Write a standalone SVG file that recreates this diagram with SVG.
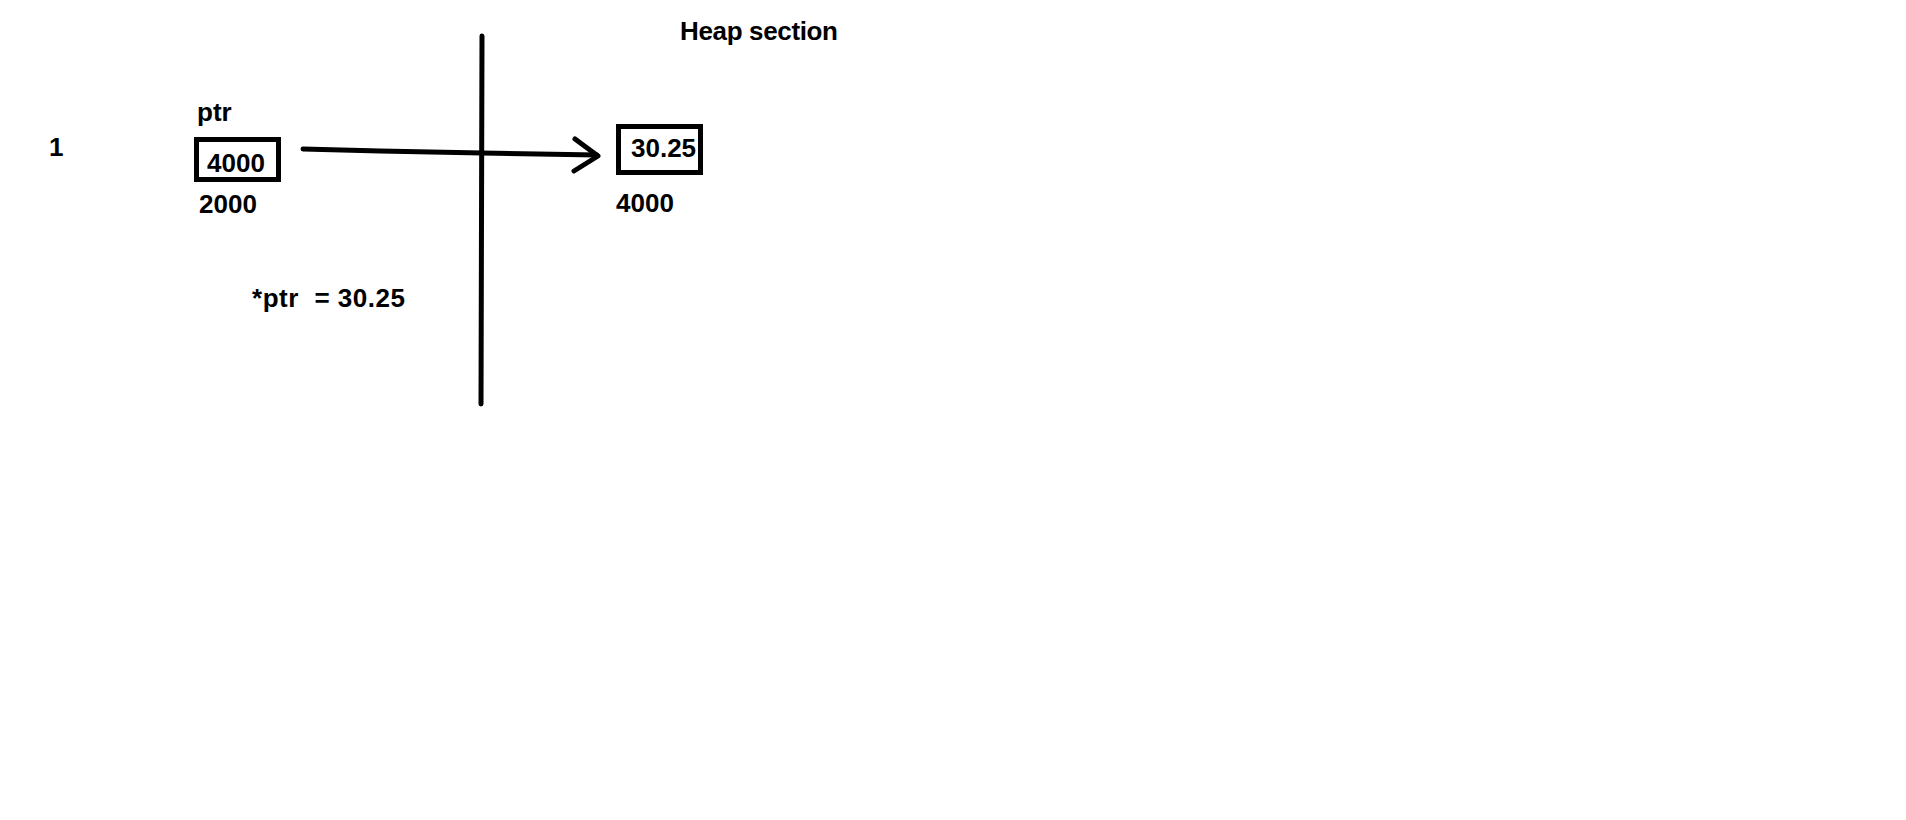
<svg xmlns="http://www.w3.org/2000/svg" width="1906" height="820" viewBox="0 0 1906 820">
<style>
.t{font-family:"Liberation Sans",Arial,sans-serif;font-weight:bold;font-size:26px;fill:#000;white-space:pre}
.box{fill:none;stroke:#000;stroke-width:5}
.ln{fill:none;stroke:#000;stroke-width:5;stroke-linecap:round;stroke-linejoin:round}
</style>
<rect width="1906" height="820" fill="#fff"/>
<text class="t" x="49" y="156">1</text>
<text class="t" x="680" y="40" textLength="158">Heap section</text>
<g id="ptr">
<text class="t" x="197" y="121">ptr</text>
<rect class="box" x="196.5" y="139.5" width="82" height="40"/>
<text class="t" x="207" y="172">4000</text>
<text class="t" x="199" y="213">2000</text>
</g>
<g id="heap">
<rect class="box" x="618.5" y="126.5" width="82" height="46"/>
<text class="t" x="631" y="157">30.25</text>
<text class="t" x="616" y="212">4000</text>
</g>
<text class="t" x="252" y="307" textLength="153">*ptr  = 30.25</text>
<g id="connectors">
<line class="ln" x1="482" y1="36" x2="481" y2="404"/>
<polyline class="ln" points="303,149 380,151 482,153 597,155"/>
<polyline class="ln" points="575,139 598,156 574,171"/>
</g>
</svg>
